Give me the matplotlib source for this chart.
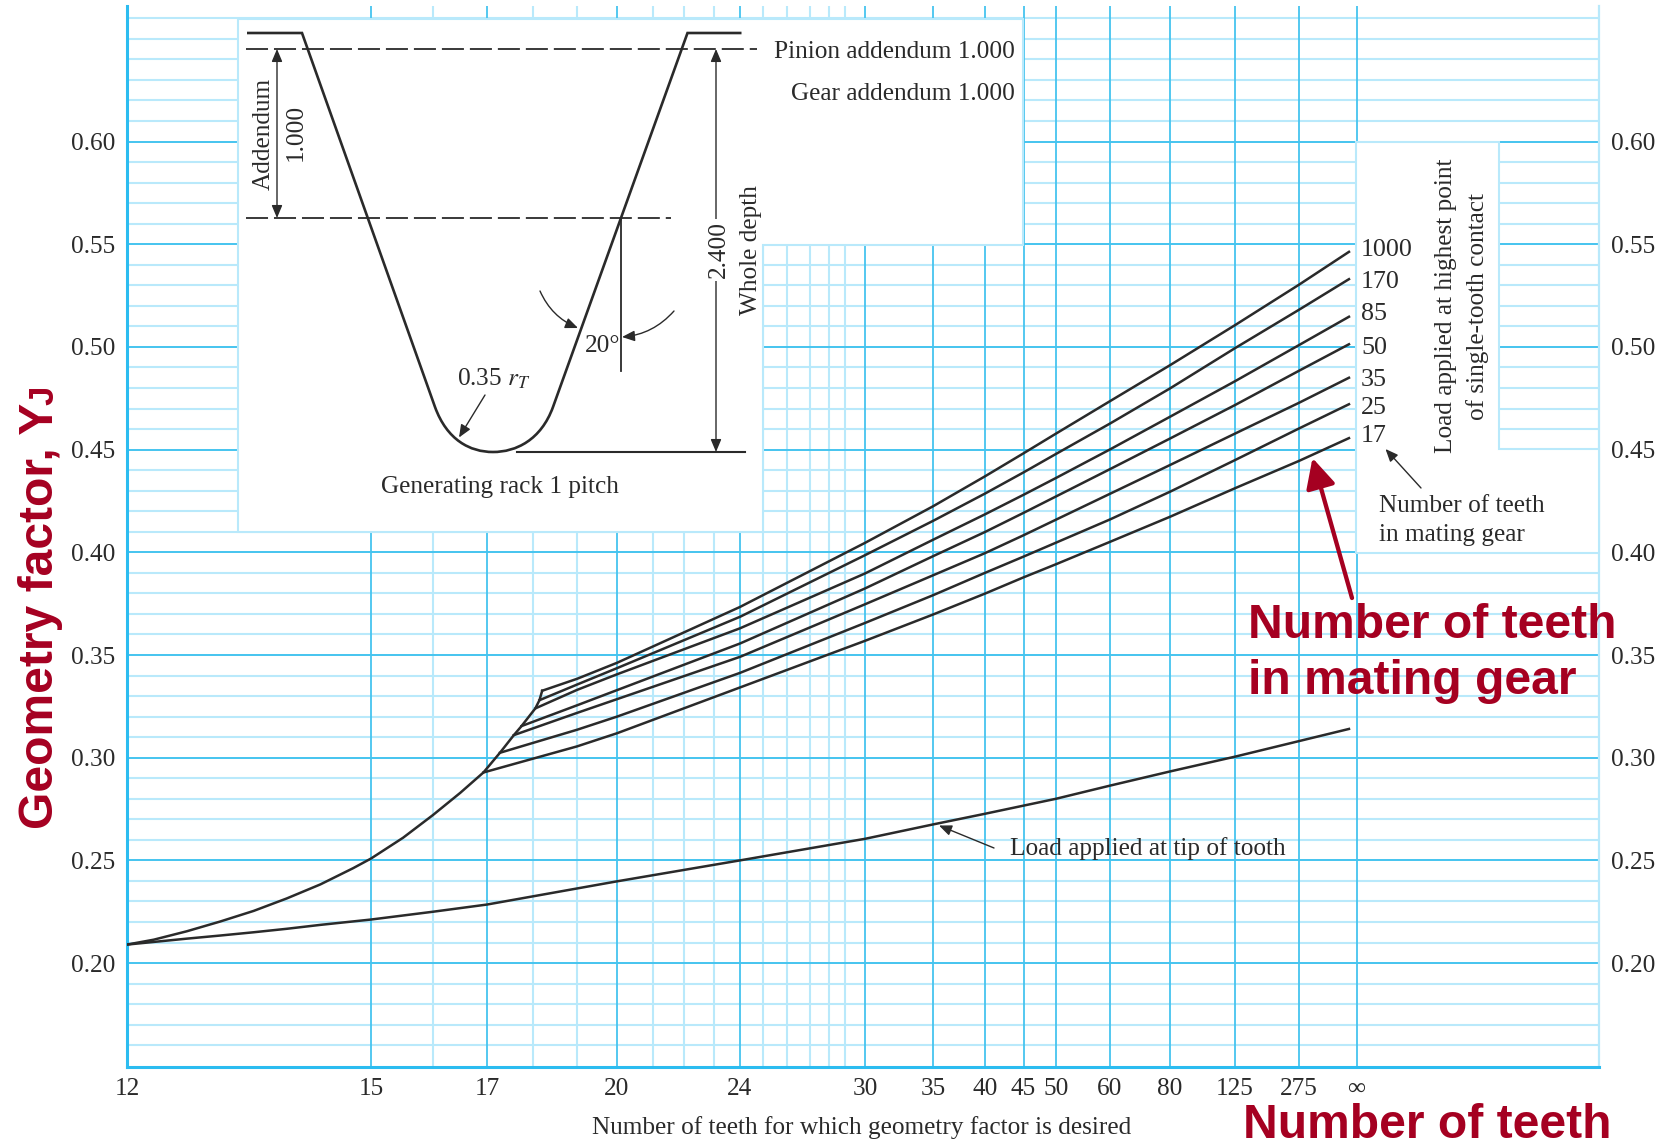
import numpy as np
import matplotlib
matplotlib.use('Agg')
import matplotlib.pyplot as plt
from matplotlib.patches import Polygon, PathPatch
from matplotlib.path import Path

plt.rcParams['font.family'] = 'Liberation Serif'
plt.rcParams['mathtext.fontset'] = 'stix'

# Grid of the chart
major_teeth = [12, 15, 17, 20, 24, 30, 35, 40, 45, 50, 60, 80, 125, 275, np.inf]
minor_teeth = [16, 18, 19, 21, 22, 23, 25, 26, 27, 28, 29]
tick_labels = ['12', '15', '17', '20', '24', '30', '35', '40', '45', '50', '60', '80', '125', '275', '∞']
y_ticks = [0.20, 0.25, 0.30, 0.35, 0.40, 0.45, 0.50, 0.55, 0.60]

# The printed x scale is close to 1/N, but not exact: calibrate it tooth by tooth
scale_teeth = [12, 15, 16, 17, 18, 19, 20, 21, 22, 23, 24, 25, 26, 27, 28, 29, 30,
               35, 40, 45, 50, 60, 80, 125, 275, np.inf]
scale_pos = [127, 371, 433, 487, 533, 577, 617, 652.5, 683.5, 714, 740, 763, 787, 810, 829, 845, 865,
             933, 985, 1023.5, 1056, 1110, 1170, 1235, 1299, 1356.5]

# Curves
envelope_teeth = [12, 12.27, 12.62, 12.99, 13.39, 13.81, 14.26, 14.73, 15, 15.5, 16, 16.49, 16.93,
                  17.27, 17.57, 17.74, 18.05, 18.14, 18.2]
envelope_y = [0.209, 0.2114, 0.2155, 0.2202, 0.2254, 0.2315, 0.2383, 0.2462, 0.2509, 0.261, 0.2721, 0.2829,
              0.2928, 0.3024, 0.311, 0.3154, 0.324, 0.328, 0.3326]

tip_teeth = [12, 12.27, 12.62, 12.99, 13.39, 13.81, 14.26, 15, 16, 17, 20, 24, 30, 35, 40, 50, 60, 80, 125, 2100]
tip_y = [0.209, 0.2103, 0.2119, 0.2134, 0.215, 0.2167, 0.2186, 0.2212, 0.225, 0.2285, 0.2398, 0.25, 0.2605,
         0.2675, 0.2727, 0.28, 0.2864, 0.2933, 0.3005, 0.314]

mating_labels = ['1000', '170', '85', '50', '35', '25', '17']
start_teeth = [18.2, 18.14, 18.05, 17.74, 17.57, 17.27, 16.93]
start_y = [0.3326, 0.328, 0.324, 0.3154, 0.311, 0.3024, 0.2928]
mating_teeth = [19, 20, 24, 30, 35, 40, 45, 50, 60, 80, 125, 275, 2100]
y_1000 = [0.3384, 0.3462, 0.3734, 0.4046, 0.4224, 0.437, 0.4482, 0.4578, 0.4736, 0.4911, 0.5106, 0.5303, 0.5463]
y_170 = [0.3356, 0.3436, 0.3686, 0.3986, 0.4153, 0.4286, 0.4389, 0.4479, 0.4627, 0.4798, 0.4994, 0.5181, 0.533]
y_85 = [0.333, 0.3406, 0.363, 0.3897, 0.4061, 0.4185, 0.428, 0.4362, 0.4501, 0.466, 0.4833, 0.5009, 0.5147]
y_50 = [0.3255, 0.3329, 0.3556, 0.3824, 0.3981, 0.4099, 0.4192, 0.4272, 0.4405, 0.4554, 0.4717, 0.4884, 0.5013]
y_35 = [0.3218, 0.3285, 0.3491, 0.3747, 0.3888, 0.3996, 0.4083, 0.4159, 0.4285, 0.4425, 0.4578, 0.4728, 0.485]
y_25 = [0.3136, 0.32, 0.3413, 0.3656, 0.3791, 0.39, 0.3979, 0.4047, 0.416, 0.4295, 0.4449, 0.4603, 0.4721]
y_17 = [0.3055, 0.3119, 0.3342, 0.3569, 0.3697, 0.3799, 0.3878, 0.3942, 0.4051, 0.4173, 0.4312, 0.4445, 0.4556]
mating_y = [y_1000, y_170, y_85, y_50, y_35, y_25, y_17]

BLUE = '#45c4ef'
LIGHT = '#b9e9fb'
INK = '#2a2a2a'
RED = '#a50021'
W, H = 1670, 1148


def v(teeth):
    return -1.0 / np.asarray(teeth, dtype=float)


# x axis variable is -1/N so that "infinity" is an ordinary value
scale_v = list(v(scale_teeth)) + [0.0164]
scale_x = scale_pos + [1599]


def fwd(a):
    return np.interp(a, scale_v, scale_x)


def inv(a):
    return np.interp(a, scale_x, scale_v)


fig = plt.figure(figsize=(W / 100, H / 100), dpi=100)
ax = fig.add_axes([127 / W, 1 - 1067 / H, (1599 - 127) / W, (1067 - 6) / H])
ax.set_xscale('function', functions=(fwd, inv))
ax.set_xlim(v(12), 0.0164)
ax.set_ylim(0.1494, 0.666)

# Grid
for t in minor_teeth:
    ax.axvline(v(t), color=LIGHT, lw=1.5, zorder=1)
for val in np.arange(15, 67):
    if val % 5:
        ax.axhline(val / 100, color=LIGHT, lw=1.5, zorder=1)
ax.axhline(0.65, color=LIGHT, lw=1.5, zorder=1)
for t in major_teeth[1:]:
    ax.axvline(v(t), color=BLUE, lw=1.3, zorder=2)
for val in y_ticks:
    ax.axhline(val, color=BLUE, lw=1.4, zorder=2)

# Curves
ax.plot(v(envelope_teeth), envelope_y, color=INK, lw=1.8, zorder=4)
ax.plot(v(tip_teeth), tip_y, color=INK, lw=1.8, zorder=4)
for i in range(len(mating_labels)):
    ax.plot(v([start_teeth[i]] + mating_teeth), [start_y[i]] + mating_y[i], color=INK, lw=1.8, zorder=4)

ax.set_xticks(v(major_teeth))
ax.set_xticklabels(tick_labels)
ax.minorticks_off()
ax.set_yticks(y_ticks)
ax.set_yticklabels(['%.2f' % t for t in y_ticks])
ax.tick_params(axis='x', length=0, pad=8, labelsize=18.2, colors=INK)
ax.tick_params(axis='y', length=0, pad=8.5, labelsize=18.2, colors=INK, labelright=True)
ax.spines['top'].set_visible(False)
ax.spines['right'].set_color(LIGHT)
ax.spines['right'].set_linewidth(1.6)
for s in ['left', 'bottom']:
    ax.spines[s].set_color('#2cbcf0')
    ax.spines[s].set_linewidth(2.2)

# Overlay in image pixels for the inset drawing and the annotations
top = fig.add_axes([0, 0, 1, 1], facecolor='none')
top.set_xlim(0, W)
top.set_ylim(H, 0)
top.axis('off')

top.add_patch(Polygon([(238, 18.6), (1023, 18.6), (1023, 245), (763, 245), (763, 532), (238, 532)],
                      facecolor='white', edgecolor=LIGHT, lw=1.5, zorder=1))
top.add_patch(Polygon([(1356, 141.6), (1499, 141.6), (1499, 449), (1599, 449), (1599, 553), (1356, 553)],
                      facecolor='white', edgecolor=LIGHT, lw=1.5, zorder=1))

# Rack profile
rack = Path([(247, 33), (302, 33), (435, 407), (447, 440), (470, 452), (493, 452),
             (516, 452), (541, 440), (553, 407), (687.5, 33), (741.5, 33)],
            [Path.MOVETO, Path.LINETO, Path.LINETO, Path.CURVE4, Path.CURVE4, Path.CURVE4,
             Path.CURVE4, Path.CURVE4, Path.CURVE4, Path.LINETO, Path.LINETO])
top.add_patch(PathPatch(rack, facecolor='none', edgecolor=INK, lw=1.9, zorder=3))
top.plot([245.5, 757], [49, 49], color=INK, lw=1.3, dashes=(12.2, 3.3), zorder=3)
top.plot([245.5, 670.5], [218, 218], color=INK, lw=1.3, dashes=(12.2, 3.3), zorder=3)
top.plot([517, 745], [452, 452], color=INK, lw=1.5, zorder=3)
top.plot([621.4, 621.4], [218, 371], color=INK, lw=1.3, zorder=3)


def arrow(p0, p1, style='-|>', rad=0.0):
    top.annotate('', xy=p1, xytext=p0, zorder=3,
                 arrowprops=dict(arrowstyle=style + ',head_length=0.38,head_width=0.16', color=INK, lw=1.0,
                                 shrinkA=0, shrinkB=0, mutation_scale=20,
                                 connectionstyle='arc3,rad=%g' % rad))


arrow((277, 49), (277, 218), '<|-|>')
arrow((716, 49), (716, 452), '<|-|>')
arrow((540, 291), (578, 328), rad=0.2)
arrow((674, 311), (622, 337), rad=-0.2)
arrow((485, 395), (459, 437.5))
arrow((1421, 488), (1385.5, 449))
arrow((994, 848), (939, 825.5))


def label(x, y, s, ha='center', rot=0, size=18.2, **kw):
    if rot:
        x = x + 2.5
    else:
        y = y + 1.5
    top.text(x, y, s, ha=ha, va='center', rotation=rot, fontsize=size, color=INK, zorder=4, **kw)


label(261, 134, 'Addendum', rot=90)
label(293, 132, '1.000', rot=90)
label(716, 250, '2.400', rot=90, bbox=dict(facecolor='white', edgecolor='none', pad=2))
label(748, 250, 'Whole depth', rot=90)
label(603, 345, '20°')
label(494, 377, '0.35 $r_T$')
label(499.5, 485, 'Generating rack 1 pitch')
label(1015, 50, 'Pinion addendum 1.000', ha='right')
label(1015, 92, 'Gear addendum 1.000', ha='right')
label(1443.5, 306, 'Load applied at highest point', rot=90)
label(1475, 306, 'of single-tooth contact', rot=90)
label(1379, 504, 'Number of teeth', ha='left')
label(1379, 533, 'in mating gear', ha='left')
label(1010, 847, 'Load applied at tip of tooth', ha='left')
label(862, 1126, 'Number of teeth for which geometry factor is desired')

mating_label_y = [248, 281, 313, 346, 378, 406, 434]
for s, yy in zip(mating_labels, mating_label_y):
    label(1361, yy, s, ha='left', size=18.7)

# Red callouts
red = dict(color=RED, family='Liberation Sans', fontweight='bold', zorder=5)
top.text(1248, 625, 'Number of teeth', fontsize=34.6, ha='left', va='center', **red)
top.text(1248, 682, 'in mating gear', fontsize=34.6, ha='left', va='center', **red)
top.text(1243, 1125, 'Number of teeth', fontsize=34.6, ha='left', va='center', **red)
top.text(53, 829, 'Geometry factor, Y', fontsize=34.6, rotation=90, rotation_mode='anchor',
         ha='left', va='baseline', **red)
top.text(53, 405, 'J', fontsize=25, rotation=90, rotation_mode='anchor', ha='left', va='baseline', **red)
top.annotate('', xy=(1312.5, 458), xytext=(1352, 598), zorder=5,
             arrowprops=dict(arrowstyle='-|>,head_length=0.9,head_width=0.45', color=RED, lw=3.1,
                             shrinkA=0, shrinkB=0, mutation_scale=20))

fig.savefig('out.png', dpi=100)
